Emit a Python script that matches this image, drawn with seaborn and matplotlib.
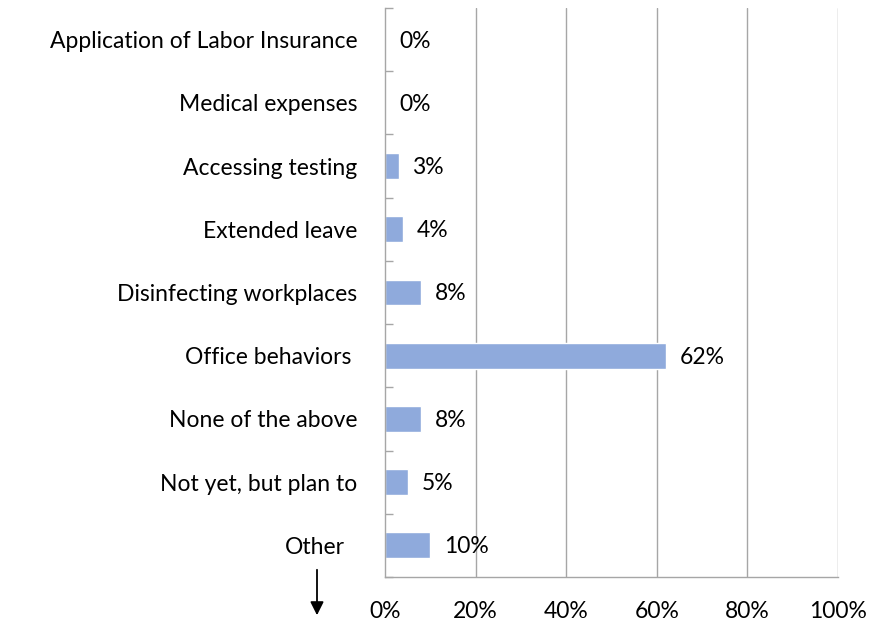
import matplotlib
matplotlib.use("Agg")
import matplotlib.pyplot as plt
import seaborn as sns
import pandas as pd
import numpy as np

categories = [
    "Application of Labor Insurance",
    "Medical expenses",
    "Accessing testing",
    "Extended leave",
    "Disinfecting workplaces",
    "Office behaviors ",
    "None of the above",
    "Not yet, but plan to",
    "Other",
]
values = [0, 0, 3, 4, 8, 62, 8, 5, 10]
x_ticks = [0, 20, 40, 60, 80, 100]
x_tick_labels = ["0%", "20%", "40%", "60%", "80%", "100%"]

df = pd.DataFrame({"category": categories, "value": values})

sns.set_theme(style="white")
plt.rcParams["font.family"] = ["Lato", "DejaVu Sans"]

FS = 16.5

fig = plt.figure(figsize=(8.92, 6.25), dpi=100)
ax = fig.add_axes([0.4316, 0.0768, 0.9395 - 0.4316, 0.9872 - 0.0768])

bar_color = "#8FAADC"
grid_color = "#A6A6A6"

sns.barplot(data=df, x="value", y="category", orient="h", color=bar_color,
            width=0.41, saturation=1, ax=ax)

ax.set_xlim(0, 100)
ax.set_ylim(len(categories) - 0.5, -0.5)
ax.set_xticks(x_ticks)
ax.set_xticklabels(x_tick_labels, fontsize=FS)
ax.set_xlabel("")
ax.set_ylabel("")

for x in x_ticks[1:]:
    ax.axvline(x, color=grid_color, lw=1, zorder=0)

for s in ["top", "right"]:
    ax.spines[s].set_visible(False)
for s in ["left", "bottom"]:
    ax.spines[s].set_color(grid_color)
    ax.spines[s].set_linewidth(1)

ax.tick_params(axis="x", length=0, pad=17, colors="black")
ax.tick_params(axis="y", which="major", length=0, pad=20)
ax.set_yticks(np.arange(-0.5, len(categories), 1.0), minor=True)
ax.tick_params(axis="y", which="minor", left=True, direction="in", length=6,
               color=grid_color, width=1)

ax.set_yticklabels(categories, fontsize=FS, color="black")
for lbl in ax.get_yticklabels():
    if lbl.get_text() == "Other":
        lbl.set_horizontalalignment("center")
        lbl.set_x(-0.094)

for i, v in enumerate(values):
    ax.annotate(f"{v}%", xy=(v, i), xytext=(10, -1), textcoords="offset points",
                va="center", ha="left", fontsize=FS, color="black")

# downward arrow beneath the last category label
fig.add_artist(matplotlib.patches.FancyArrowPatch(
    (317 / 892, 1 - 567 / 625), (317 / 892, 1 - 618 / 625),
    transform=fig.transFigure, arrowstyle="-|>", mutation_scale=20,
    color="black", lw=1.3))

fig.savefig("out.png", dpi=100)
